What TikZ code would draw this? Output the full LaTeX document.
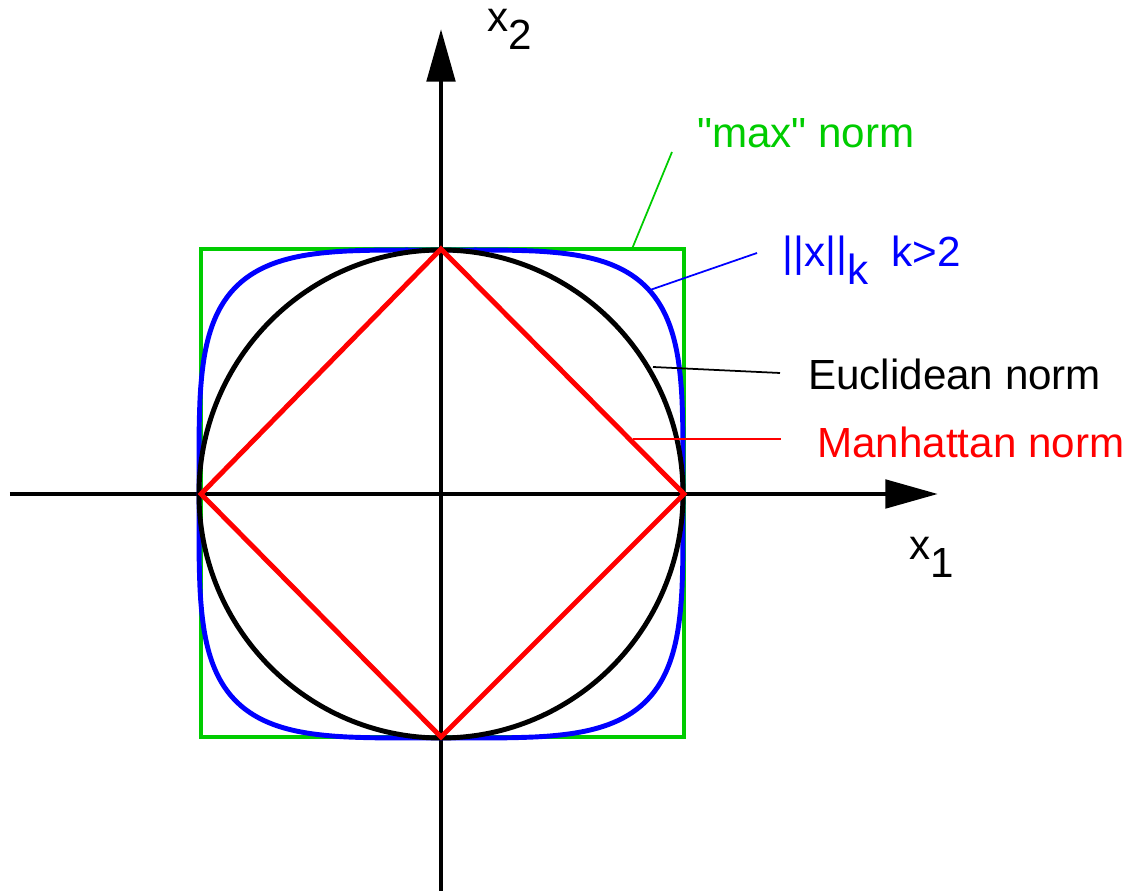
\documentclass[tikz,border=0pt]{standalone}
\usepackage{fontspec}
\setmainfont{Liberation Sans}
\usepackage{xcolor}
\usepackage{tikz}
\usetikzlibrary{calc, arrows.meta, positioning}

\definecolor{normgreen}{RGB}{0,204,0}
\newcommand{\lowsub}[1]{\raisebox{-0.42em}{#1}}

\begin{document}
\begin{tikzpicture}[x=0.02cm, y=0.02cm, >={Triangle[length=30pt, width=16pt]},
    font=\fontsize{24}{28}\selectfont,
    axis/.style={black, line width=2.8pt},
    normline/.style={line width=2.8pt},
    leader/.style={line width=1pt}]
    \useasboundingbox (-441,-397) rectangle (691,494);

    % 1. Hai trục tọa độ x1, x2
    \draw[axis, ->] (-431,0) -- (497,0);
    \draw[axis, ->] (0,-397) -- (0,465);
    \node[anchor=base west] (lx1) at (462,-66) {x\lowsub{1}};
    \node[anchor=base west] (lx2) at (40,462) {x\lowsub{2}};

    % 2. Các đường chuẩn
    % Chuẩn "max": hình vuông
    \draw[normline, normgreen, line width=2.2pt] (-240,-243) rectangle (243,245);
    % Chuẩn ||x||_k với k>2
    \draw[normline, blue, samples=361, domain=0:360]
        plot ({242*sign(cos(\x))*pow(max(abs(cos(\x)),0.0001),2/4.2)},
              {244*sign(sin(\x))*pow(max(abs(sin(\x)),0.0001),2/4.2)}) -- cycle;
    % Chuẩn Euclid: đường tròn
    \draw[normline, black] (0,0) ellipse [x radius=242, y radius=244];
    % Chuẩn Manhattan: hình thoi
    \draw[normline, red] (-240,0) -- (0,245) -- (243,0) -- (0,-243) -- cycle;

    % 3. Nhãn và các đường chỉ dẫn
    \node[anchor=base west, text=normgreen] (lmax) at (250,346) {\textquotedbl max\textquotedbl\ norm};
    \coordinate (pmax) at (191,245);
    \coordinate (emax) at (231,342);
    \draw[leader, normgreen] (pmax) -- (emax);

    \node[anchor=base west, text=blue] (lk) at (335,227) {||x||\lowsub{k}\hspace{0.55em}k>2};
    \coordinate (pk) at (209,204);
    \coordinate (ek) at (316,241);
    \draw[leader, blue] (pk) -- (ek);

    \node[anchor=base west] (leuc) at (361,104) {Euclidean norm};
    \coordinate (peuc) at (212,127);
    \coordinate (eeuc) at (339,121);
    \draw[leader, black] (peuc) -- (eeuc);

    \node[anchor=base west, text=red] (lman) at (370,36) {Manhattan norm};
    \coordinate (pman) at (192,55);
    \coordinate (eman) at (340,55);
    \draw[leader, red] (pman) -- (eman);

\end{tikzpicture}
\end{document}
